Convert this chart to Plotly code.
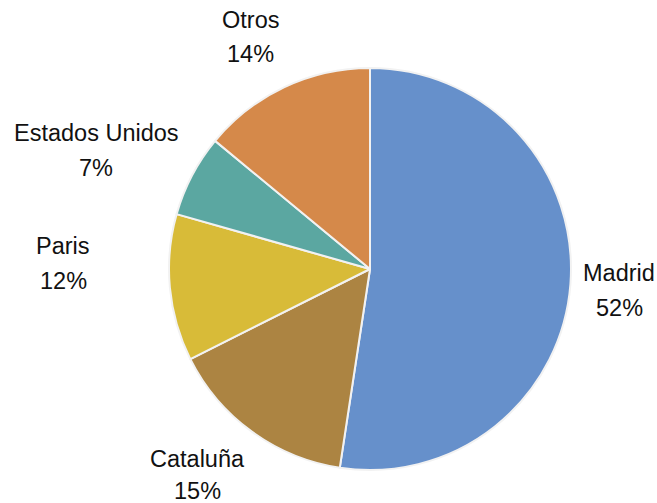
import plotly.graph_objects as go

W, H = 657, 503

categories = ["Madrid", "Cataluña", "Paris", "Estados Unidos", "Otros"]
values = [52.4, 15.2, 11.8, 6.6, 14.0]
colors = ["#6690CB", "#AC8442", "#D8BB38", "#5BA7A1", "#D5894A"]

# label block centres (pixels from top-left): x, name line y, percent line y
label_pos = {
    "Madrid": (619, 273, 308),
    "Cataluña": (197, 459, 491),
    "Paris": (63, 246, 281),
    "Estados Unidos": (96, 133, 168),
    "Otros": (250, 20, 54),
}

cx, cy, r = 370, 269, 201

fig = go.Figure(go.Pie(
    labels=categories,
    values=values,
    sort=False,
    direction="clockwise",
    rotation=0,
    marker=dict(colors=colors, line=dict(color="#F2F2F2", width=2)),
    textinfo="none",
    hoverinfo="label+percent",
    showlegend=False,
    domain=dict(x=[(cx - r) / W, (cx + r) / W], y=[(H - cy - r) / H, (H - cy + r) / H]),
))

total = sum(values)
font = dict(family="Liberation Sans, Arial, sans-serif", size=23.5, color="#111111")
annotations = []
for cat, v in zip(categories, values):
    x, y1, y2 = label_pos[cat]
    pct = f"{round(v / total * 100)}%"
    for txt, yy in ((cat, y1), (pct, y2)):
        annotations.append(dict(
            text=txt, x=x / W, y=1 - yy / H, xref="paper", yref="paper",
            xanchor="center", yanchor="middle", showarrow=False, font=font,
        ))

fig.update_layout(
    width=W, height=H,
    margin=dict(l=0, r=0, t=0, b=0),
    paper_bgcolor="white", plot_bgcolor="white",
    annotations=annotations,
)

fig.write_html(
    "out.html",
    config={"displayModeBar": False},
    post_script="document.body.style.margin='0';document.body.style.overflow='hidden';",
)
